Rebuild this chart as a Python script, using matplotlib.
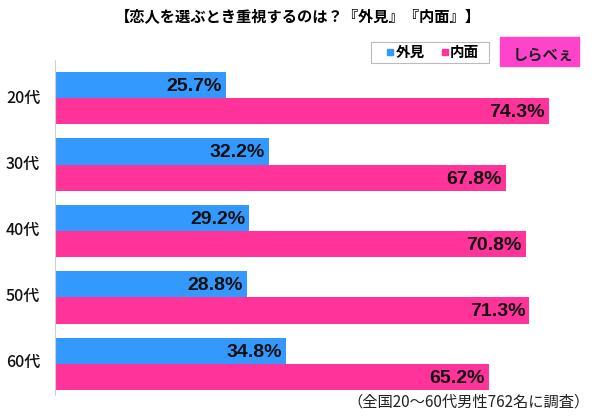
import matplotlib
matplotlib.use("Agg")
import matplotlib.pyplot as plt
from matplotlib.patches import Rectangle

plt.rcParams["font.family"] = ["Noto Sans CJK JP", "DejaVu Sans"]

# ----------------------------------
# Data
# ----------------------------------

ages = ["20代", "30代", "40代", "50代", "60代"]
looks = [25.7, 32.2, 29.2, 28.8, 34.8]
inner = [74.3, 67.8, 70.8, 71.3, 65.2]

BLUE = "#3399ff"
PINK = "#ff3399"

fig = plt.figure(figsize=(6, 4.2), dpi=100)

# axes placed in pixel terms: left 55px, top 60px, bottom 395px
ax = fig.add_axes([55 / 600, 1 - 395 / 420, 545 / 600, 335 / 420])

h = 26 / 66
for i, (a, b) in enumerate(zip(looks, inner)):
    ax.barh(i - h / 2, a, height=h, color=BLUE)
    ax.barh(i + h / 2, b, height=h, color=PINK)
    ax.text(a - 0.6, i - h / 2 + 0.02, f"{a}%", ha="right", va="center",
            fontsize=14, fontweight="bold", family="Liberation Sans", color="#111111")
    ax.text(b - 0.6, i + h / 2 + 0.02, f"{b}%", ha="right", va="center",
            fontsize=14, fontweight="bold", family="Liberation Sans", color="#111111")

ax.set_xlim(0, 545 / 6.65)
ax.set_ylim(295 / 66 + 0.0, -38 / 66)

for s in ["top", "right", "bottom"]:
    ax.spines[s].set_visible(False)
ax.spines["left"].set_color("#d0d0d0")
ax.set_xticks([])
ax.set_yticks([])

for i, lab in enumerate(ages):
    fig.text(23 / 600, 1 - (98 + 66 * i) / 420, lab, ha="center", va="center",
             fontsize=11.5, fontweight="medium", color="#111111")

# title
fig.text(298 / 600, 1 - 16 / 420, "【恋人を選ぶとき重視するのは？『外見』『内面』】",
         ha="center", va="center", fontsize=11, fontweight="bold")

# legend box
fig.patches.append(Rectangle((371 / 600, 1 - 63 / 420), 118 / 600, 21 / 420,
                             transform=fig.transFigure, facecolor="white",
                             edgecolor="#bbbbbb", linewidth=0.8))
fig.patches.append(Rectangle((387 / 600, 1 - 55 / 420), 6 / 600, 6 / 420,
                             transform=fig.transFigure, color=BLUE))
fig.text(396 / 600, 1 - 52 / 420, "外見", ha="left", va="center",
         fontsize=10.5, fontweight="bold")
fig.patches.append(Rectangle((442 / 600, 1 - 55 / 420), 6 / 600, 6 / 420,
                             transform=fig.transFigure, color=PINK))
fig.text(450 / 600, 1 - 52 / 420, "内面", ha="left", va="center",
         fontsize=10.5, fontweight="bold")

# logo
fig.patches.append(Rectangle((500 / 600, 1 - 66 / 420), 79 / 600, 29 / 420,
                             transform=fig.transFigure, color="#ff44cc"))
fig.text(543 / 600, 1 - 54 / 420, "しらべぇ", ha="center", va="center",
         fontsize=11, fontweight="bold", color="#222222")

# footnote
fig.text(590 / 600, 1 - 402 / 420, "（全国20～60代男性762名に調査）",
         ha="right", va="center", fontsize=11, color="#222222")

fig.savefig("out.png", dpi=100)
